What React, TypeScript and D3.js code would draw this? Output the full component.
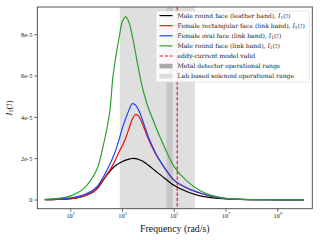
import React from "react";
import * as d3 from "d3";

// frequency samples (rad/s) and curve values (in units of 1e-5)
const freqs = [
  1, 3.16, 10, 31.6, 100, 178, 316, 422, 562, 750, 1000, 1334, 1778, 2371,
  3162, 4217, 5623, 7499, 1e4, 1.778e4, 3.162e4, 1e5, 3.162e5, 1e6, 3.162e6,
  1e7, 3.162e7, 1e8, 1e9, 1e10,
];
const leatherMale = [
  0.02, 0.03, 0.07, 0.18, 0.52, 0.95, 1.38, 1.55, 1.68, 1.78, 1.86, 1.93, 1.98,
  2.01, 2.0, 1.96, 1.9, 1.8, 1.68, 1.43, 1.18, 0.7, 0.4, 0.2, 0.1, 0.05, 0.03,
  0.02, 0.01, 0.01,
];
const rectFemale = [
  0.02, 0.03, 0.07, 0.18, 0.52, 0.98, 1.42, 1.7, 2.0, 2.35, 2.65, 3.0, 3.45,
  3.9, 4.14, 4.05, 3.75, 3.35, 2.95, 2.3, 1.78, 0.95, 0.57, 0.33, 0.16, 0.07,
  0.03, 0.02, 0.01, 0.01,
];
const ovalFemale = [
  0.02, 0.04, 0.1, 0.25, 0.62, 1.1, 1.7, 2.05, 2.45, 2.95, 3.5, 3.95, 4.35,
  4.66, 4.6, 4.35, 3.95, 3.5, 3.05, 2.35, 1.8, 0.95, 0.58, 0.34, 0.17, 0.07,
  0.03, 0.02, 0.01, 0.01,
];
const linkMale = [
  0.03, 0.08, 0.2, 0.55, 1.45, 2.6, 4.2, 5.9, 7.0, 7.9, 8.65, 8.86, 8.6, 7.95,
  7.15, 6.3, 5.55, 4.95, 4.45, 3.65, 2.9, 1.6, 0.9, 0.45, 0.2, 0.08, 0.04,
  0.02, 0.01, 0.01,
];

const seriesLabels = [
  "Male round face (leather band), ",
  "Female rectangular face (link band), ",
  "Female oval face (link band), ",
  "Male round face (link band), ",
];
const seriesColors = ["#000000", "#ee1111", "#1f44ee", "#2ca02c"];

const labBand = [785, 6.28e5];
const metalBand = [5.0e4, 8.8e4];
const eddyLimit = 1.3e5;

const yTicks = [0, 2, 4, 6, 8];
const yTickLabels = ["0", "2e-5", "4e-5", "6e-5", "8e-5"];
const xTickExp = [1, 3, 5, 7, 9];

const W = 320;
const H = 240;
const left = 37.3;
const right = 312.3;
const top = 7;
const bottom = 208.7;
const FONT = "'Liberation Serif', 'DejaVu Serif', serif";
const LEG_FONT = "'DejaVu Serif', serif";

const MathI = () => (
  <>
    <tspan fontStyle="italic">I</tspan>
    <tspan fontSize="0.7em" dy="1.2">1</tspan>
    <tspan dy="-1.2">(</tspan>
    <tspan fontFamily="'DejaVu Sans', sans-serif" fontSize="0.9em">ℐ</tspan>
    <tspan>)</tspan>
  </>
);

export default function App() {
  const x = d3
    .scaleLog()
    .domain([Math.pow(10, -0.29), Math.pow(10, 10.33)])
    .range([left, right]);
  const y = d3.scaleLinear().domain([-0.42, 9.34]).range([bottom, top]);

  const series = [leatherMale, rectFemale, ovalFemale, linkMale];
  const line = d3
    .line<number>()
    .x((_, i) => x(freqs[i]))
    .y((d) => y(d))
    .curve(d3.curveCatmullRom.alpha(0.5));

  const legendX = 156;
  const legendY = 11;
  const rowY = (i: number) => 15.6 + i * 10.1;
  const legFs = 6.1;

  return (
    <svg
      width={W}
      height={H}
      style={{ position: "absolute", left: 0, top: 0, background: "#fff" }}
      fontFamily={FONT}
    >
      {/* shaded ranges */}
      <rect
        x={x(labBand[0])}
        y={top}
        width={x(labBand[1]) - x(labBand[0])}
        height={bottom - top}
        fill="#dfdfdf"
      />
      <rect
        x={x(metalBand[0])}
        y={top}
        width={x(metalBand[1]) - x(metalBand[0])}
        height={bottom - top}
        fill="#c6c6c6"
      />
      <line
        x1={x(eddyLimit)}
        x2={x(eddyLimit)}
        y1={top}
        y2={bottom}
        stroke="#e8141c"
        strokeWidth={1.1}
        strokeDasharray="3.5,1.8"
      />

      {series.map((s, i) => (
        <path
          key={i}
          d={line(s) || ""}
          fill="none"
          stroke={seriesColors[i]}
          strokeWidth={1.2}
        />
      ))}

      {/* spines */}
      <rect
        x={left}
        y={top}
        width={right - left}
        height={bottom - top}
        fill="none"
        stroke="#444"
        strokeWidth={0.9}
      />

      {/* y axis */}
      {yTicks.map((t, i) => (
        <g key={t}>
          <line x1={left - 3} x2={left} y1={y(t)} y2={y(t)} stroke="#444" strokeWidth={0.8} />
          <text x={left - 5} y={y(t) + 2.2} fontSize={6.3} textAnchor="end" fill="#222">
            {yTickLabels[i]}
          </text>
        </g>
      ))}
      {/* x axis */}
      {xTickExp.map((e) => (
        <g key={e}>
          <line
            x1={x(Math.pow(10, e))}
            x2={x(Math.pow(10, e))}
            y1={bottom}
            y2={bottom + 3}
            stroke="#444"
            strokeWidth={0.8}
          />
          <text x={x(Math.pow(10, e))} y={bottom + 9.5} fontSize={6.3} textAnchor="middle" fill="#222">
            10
            <tspan fontSize={4.4} dy={-2.8}>
              {e}
            </tspan>
          </text>
        </g>
      ))}

      <text x={(left + right) / 2} y={231.5} fontSize={9.8} textAnchor="middle" fill="#111">
        Frequency (rad/s)
      </text>
      <text
        transform={`translate(12,${(top + bottom) / 2}) rotate(-90)`}
        fontSize={8.5}
        textAnchor="middle"
        fill="#111"
      >
        <MathI />
      </text>

      {/* legend */}
      <rect
        x={legendX}
        y={legendY}
        width={153.5}
        height={71}
        rx={1.5}
        fill="#fff"
        fillOpacity={0.85}
        stroke="#d8d8d8"
        strokeWidth={0.6}
      />
      <g fontFamily={LEG_FONT} fontSize={legFs} fill="#222">
        {seriesLabels.map((lab, i) => (
          <g key={lab}>
            <line x1={159.5} x2={172.5} y1={rowY(i)} y2={rowY(i)} stroke={seriesColors[i]} strokeWidth={1.2} />
            <text x={177.5} y={rowY(i) + 2.1}>
              {lab}
              <MathI />
            </text>
          </g>
        ))}
        <line x1={159.5} x2={172.5} y1={rowY(4)} y2={rowY(4)} stroke="#e8141c" strokeWidth={1.1} strokeDasharray="3.5,1.8" />
        <text x={177.5} y={rowY(4) + 2.1}>
          eddy-current model valid
        </text>
        <rect x={159.5} y={rowY(5) - 2.3} width={13} height={4.6} fill="#a9a9a9" />
        <text x={177.5} y={rowY(5) + 2.1}>
          Metal detector operational range
        </text>
        <rect x={159.5} y={rowY(6) - 2.3} width={13} height={4.6} fill="#dcdcdc" />
        <text x={177.5} y={rowY(6) + 2.1}>
          Lab based solenoid operational range
        </text>
      </g>
    </svg>
  );
}
